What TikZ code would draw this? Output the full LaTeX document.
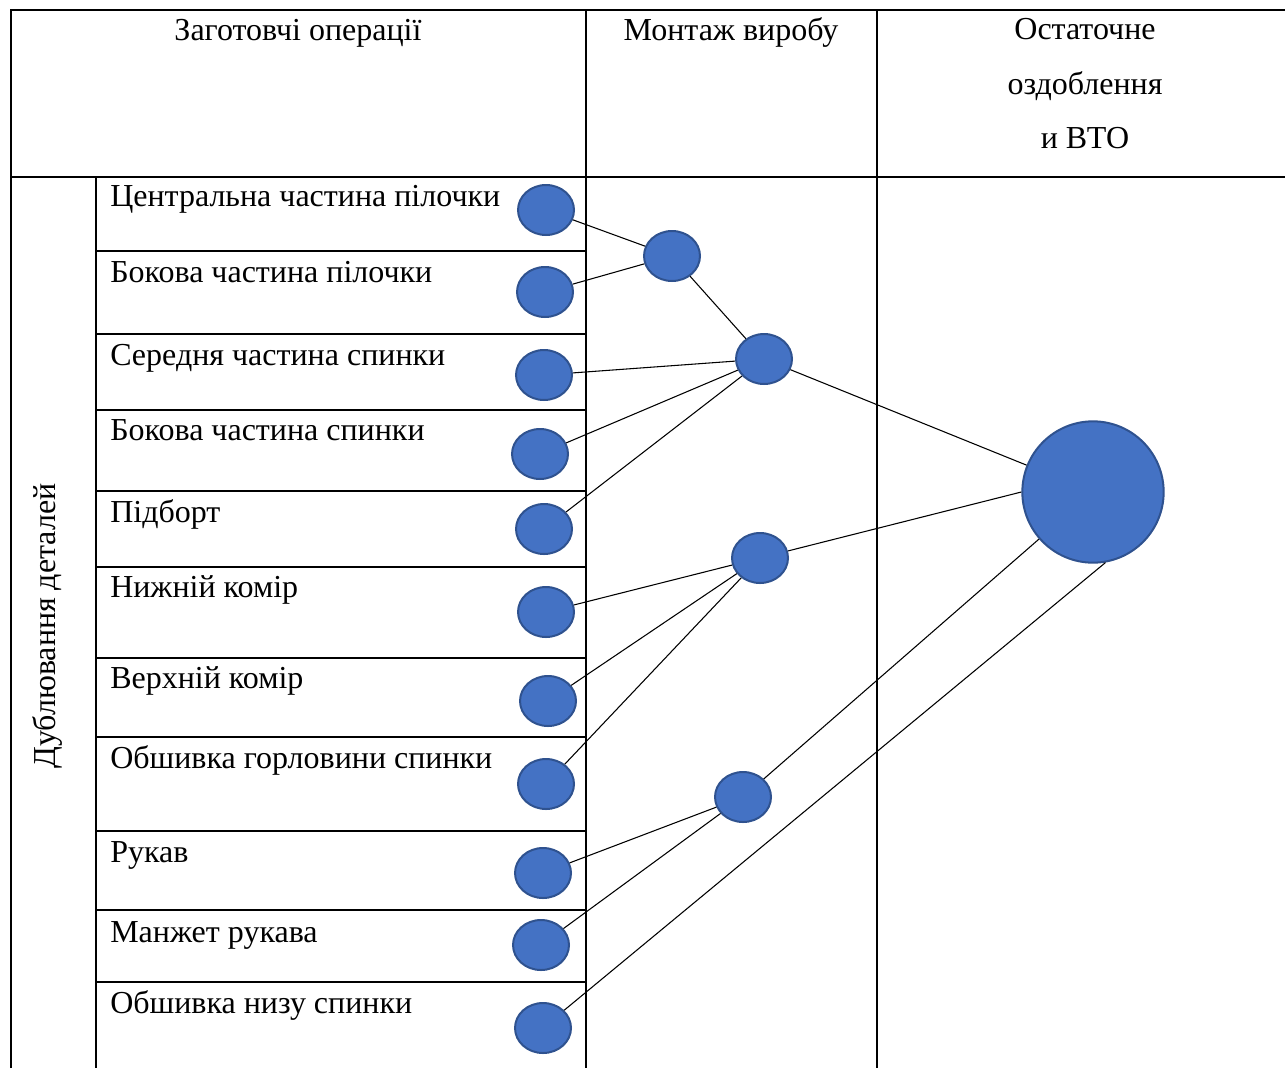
\documentclass[tikz,border=0pt]{standalone}
\usepackage{fontspec}
\setmainfont{Liberation Serif}
\usepackage{xcolor}
\usetikzlibrary{shapes.geometric}
\definecolor{NodeBlue}{RGB}{68,114,196}
\definecolor{NodeRim}{RGB}{47,82,143}

\begin{document}
\begin{tikzpicture}[x=0.75pt,y=0.75pt,yscale=-1,xscale=1,
	part/.style={ellipse,draw=NodeRim,fill=NodeBlue,line width=1.5pt,minimum width=42pt,minimum height=37.5pt,inner sep=0pt},
	grid/.style={line width=1.6pt},
	link/.style={line width=0.8pt},
	lbl/.style={anchor=base west,inner sep=0pt,font=\fontsize{24}{28}\selectfont},
	head/.style={anchor=base,inner sep=0pt,align=center,font=\fontsize{24}{41}\selectfont}]

						\useasboundingbox (0,0) rectangle (1285,1068);

						%Table frame
						\draw [grid]  (11,1068) -- (11,10) -- (1285,10) ;
						\draw [grid]  (11,177) -- (1285,177) ;
						\draw [grid]  (586,10) -- (586,1068) ;
						\draw [grid]  (877,10) -- (877,1068) ;
						\draw [grid]  (96,177) -- (96,1068) ;
						%Row lines
						\draw [grid]  (96,251) -- (586,251) ;
						\draw [grid]  (96,334) -- (586,334) ;
						\draw [grid]  (96,410) -- (586,410) ;
						\draw [grid]  (96,491) -- (586,491) ;
						\draw [grid]  (96,567) -- (586,567) ;
						\draw [grid]  (96,658) -- (586,658) ;
						\draw [grid]  (96,737) -- (586,737) ;
						\draw [grid]  (96,831) -- (586,831) ;
						\draw [grid]  (96,910) -- (586,910) ;
						\draw [grid]  (96,982) -- (586,982) ;

						% Text Node
						\node [head] (hPrep) at (298,40) {Заготовчі операції};
						% Text Node
						\node [head] (hAssy) at (731,40) {Монтаж виробу};
						% Text Node
						\node [head,anchor=north] (hFinish) at (1085,18) {Остаточне\\оздоблення\\и ВТО};
						% Text Node
						\node [anchor=center,inner sep=0pt,rotate=90,font=\fontsize{24}{28}\selectfont] (hFuse) at (47,626) {Дублювання деталей};

						% Text Node
						\node [lbl] (t1) at (110,206) {Центральна частина пілочки};
						\node [lbl] (t2) at (110,282) {Бокова частина пілочки};
						\node [lbl] (t3) at (110,365) {Середня частина спинки};
						\node [lbl] (t4) at (110,440) {Бокова частина спинки};
						\node [lbl] (t5) at (110,522) {Підборт};
						\node [lbl] (t6) at (110,597) {Нижній комір};
						\node [lbl] (t7) at (110,688) {Верхній комір};
						\node [lbl] (t8) at (110,768) {Обшивка горловини спинки};
						\node [lbl] (t9) at (110,862) {Рукав};
						\node [lbl] (t10) at (110,942) {Манжет рукава};
						\node [lbl] (t11) at (110,1013) {Обшивка низу спинки};

						%Shape: Ellipse
						\node [part] (c1) at (546,210) {};
						\node [part] (c2) at (545,292) {};
						\node [part] (c3) at (544,375) {};
						\node [part] (c4) at (540,454) {};
						\node [part] (c5) at (544,529) {};
						\node [part] (c6) at (546,612) {};
						\node [part] (c7) at (548,701) {};
						\node [part] (c8) at (546,784) {};
						\node [part] (c9) at (543,873) {};
						\node [part] (c10) at (541,945) {};
						\node [part] (c11) at (543,1028) {};
						%Shape: Ellipse
						\node [part] (m1) at (672,256) {};
						\node [part] (m2) at (764,359) {};
						\node [part] (m3) at (760,558) {};
						\node [part] (m4) at (743,797) {};
						%Shape: Circle
						\node [part,circle,minimum size=106pt] (final) at (1093,492) {};

						%Straight Lines
						\draw [link]  (c1) -- (m1) ;
						\draw [link]  (c2) -- (m1) ;
						\draw [link]  (m1) -- (m2) ;
						\draw [link]  (c3) -- (m2) ;
						\draw [link]  (c4) -- (m2) ;
						\draw [link]  (c5) -- (m2) ;
						\draw [link]  (m2) -- (final) ;
						\draw [link]  (c6) -- (m3) ;
						\draw [link]  (c7) -- (m3) ;
						\draw [link]  (c8) -- (m3) ;
						\draw [link]  (m3) -- (final.180) ;
						\draw [link]  (c9) -- (m4) ;
						\draw [link]  (c10) -- (m4) ;
						\draw [link]  (m4) -- (final) ;
						\draw [link]  (c11.40) -- (final.-80) ;

\end{tikzpicture}
\end{document}
